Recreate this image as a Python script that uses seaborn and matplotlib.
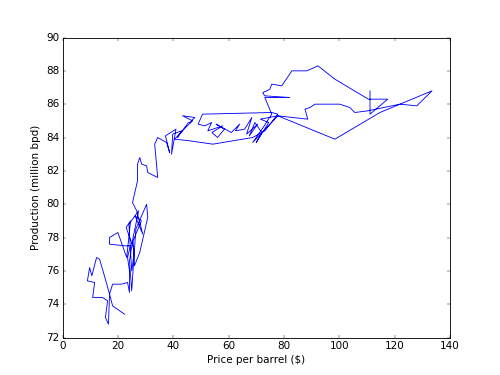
import matplotlib
matplotlib.use("Agg")
import matplotlib.pyplot as plt
import seaborn as sns
import pandas as pd

price = [
    22.4, 18.1, 17.0, 16.6, 15.5, 16.3, 14.5, 10.9, 11.6, 9.0,
    9.8, 10.6, 12.3, 13.4, 14.8, 17.0, 18.1, 21.3, 23.5, 24.2,
    24.2, 23.5, 24.5, 22.4, 17.0, 17.0, 20.0, 23.2, 24.6, 23.0,
    26.0, 25.0, 24.0, 27.5, 25.5, 24.2, 25.0, 26.5, 30.4, 30.8,
    27.9, 26.0, 25.5, 28.5, 26.2, 29.0, 26.8, 25.3, 27.1, 27.1,
    27.9, 28.6, 30.4, 30.8, 34.4, 33.3, 34.4, 37.6, 38.7, 37.2,
    41.0, 39.4, 39.8, 43.0, 41.5, 45.5, 46.0, 47.8, 43.4, 47.0,
    44.5, 40.5, 46.0, 54.3, 61.5, 68.7, 73.1, 77.8, 75.6, 50.6,
    49.0, 51.4, 53.9, 52.5, 57.9, 54.0, 56.0, 58.5, 55.5, 61.0,
    64.0, 62.5, 65.8, 68.4, 66.5, 70.5, 67.5, 69.5, 72.0, 70.0,
    74.5, 71.5, 77.8, 88.6, 87.6, 89.4, 91.2, 100.2, 103.8, 105.6,
    110.3, 121.9, 128.0, 133.5, 114.7, 98.4, 77.8, 68.7, 72.5, 75.6,
    73.1, 82.1, 73.0, 72.4, 73.8, 74.9, 75.6, 79.2, 82.9, 88.3,
    92.3, 98.4, 110.5, 117.5, 111.1, 111.1,
]
production = [
    73.4, 73.9, 74.6, 72.8, 73.2, 74.2, 74.4, 74.4, 75.3, 75.4,
    76.2, 75.7, 76.8, 76.7, 75.9, 74.6, 75.2, 75.2, 75.3, 74.7,
    76.0, 76.8, 77.5, 77.5, 77.6, 78.0, 78.3, 76.8, 79.0, 78.6,
    77.2, 76.0, 78.8, 79.6, 78.0, 76.6, 74.8, 78.5, 80.0, 79.2,
    77.1, 76.3, 77.8, 79.0, 79.3, 78.2, 79.6, 80.1, 81.4, 82.4,
    82.8, 82.4, 82.3, 81.9, 81.6, 83.6, 84.0, 83.7, 83.1, 84.1,
    84.5, 83.0, 84.2, 84.4, 84.0, 84.9, 84.9, 85.2, 85.3, 85.0,
    84.6, 83.9, 83.8, 83.6, 83.8, 84.0, 84.4, 85.4, 85.5, 85.4,
    84.8, 84.7, 84.9, 84.4, 84.7, 84.3, 84.0, 84.5, 84.8, 84.3,
    84.8, 84.4, 84.5, 85.2, 84.2, 84.8, 84.1, 84.9, 84.3, 83.7,
    84.9, 85.1, 85.3, 85.1, 85.7, 85.8, 86.0, 86.0, 85.8, 85.5,
    85.6, 86.0, 85.9, 86.8, 85.5, 83.9, 85.3, 83.7, 84.6, 85.4,
    86.4, 86.4, 86.5, 86.7, 86.8, 86.9, 87.2, 87.1, 88.0, 88.0,
    88.3, 87.5, 86.3, 86.3, 85.4, 86.8,
]

xticks = [0, 20, 40, 60, 80, 100, 120, 140]
yticks = [72, 74, 76, 78, 80, 82, 84, 86, 88, 90]

df = pd.DataFrame({"price": price, "production": production})

plt.style.use("classic")
fig = plt.figure(figsize=(8, 6), dpi=62.5, facecolor="white")
ax = fig.add_subplot(111)
ax.set_facecolor("white")
sns.lineplot(data=df, x="price", y="production", sort=False, estimator=None,
             color="#0000ff", linewidth=1.0, ax=ax)
ax.set_xlim(0, 140)
ax.set_ylim(72, 90)
ax.set_xticks(xticks)
ax.set_yticks(yticks)
ax.set_xlabel(r"Price per barrel (\$)")
ax.set_ylabel("Production (million bpd)")
fig.savefig("out.png", dpi=62.5, facecolor="white")
